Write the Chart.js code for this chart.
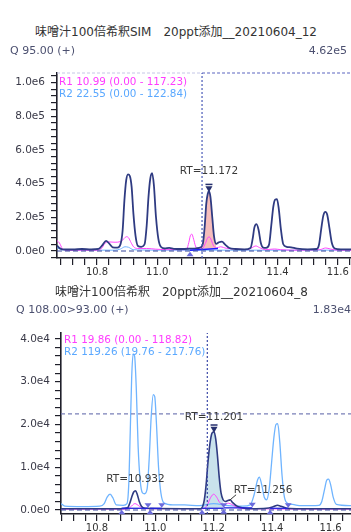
<!DOCTYPE html>
<html>
<head>
<meta charset="utf-8">
<title>SIM / MRM chromatograms</title>
<script src="https://cdn.jsdelivr.net/npm/chart.js@4/dist/chart.umd.min.js"></script>
<style>
  body { margin: 0; width: 351px; height: 532px; position: relative; overflow: hidden; background: #fff;
         font-family: "DejaVu Sans", "Noto Sans CJK JP", sans-serif; }
  canvas { position: absolute; left: 0; }
  .lbl { position: absolute; white-space: nowrap; line-height: 1; z-index: 2; }
  .title { font-size: 12px; color: #333; }
  .qline { font-size: 11px; color: #4c5070; }
  .r1 { font-size: 10.4px; color: #ff3cff; }
  .r2 { font-size: 10.4px; color: #5aa8ff; }
</style>
</head>
<body>
<canvas id="sim" width="351" height="225" style="top:60px"></canvas>
<canvas id="mrm" width="351" height="212" style="top:320px"></canvas>

<div class="lbl title" style="left:35px; top:26px">味噌汁100倍希釈SIM　20ppt添加__20210604_12</div>
<div class="lbl qline" style="left:10px; top:45px">Q 95.00 (+)</div>
<div class="lbl qline" style="right:4px; top:45px">4.62e5</div>
<div class="lbl r1" style="left:59px; top:76px">R1 10.99 (0.00 - 117.23)</div>
<div class="lbl r2" style="left:59px; top:88px">R2 22.55 (0.00 - 122.84)</div>

<div class="lbl title" style="left:55px; top:286px">味噌汁100倍希釈　20ppt添加__20210604_8</div>
<div class="lbl qline" style="left:16px; top:304px">Q 108.00&gt;93.00 (+)</div>
<div class="lbl qline" style="right:0px; top:304px">1.83e4</div>
<div class="lbl r1" style="left:64px; top:334px">R1 19.86 (0.00 - 118.82)</div>
<div class="lbl r2" style="left:64px; top:346px">R2 119.26 (19.76 - 217.76)</div>

<script>
// ---- SIM run (Q 95.00) ----
const simRT = [10.667, 11.644];
const simInt = [-41500, 1056000];

const simNavyRT = [10.667, 10.675, 10.685, 10.72, 10.75, 10.78, 10.805, 10.818, 10.83, 10.84, 10.852, 10.868,
  10.878, 10.885, 10.891, 10.897, 10.903, 10.909, 10.915, 10.921, 10.928, 10.936, 10.947,
  10.958, 10.965, 10.971, 10.977, 10.983, 10.989, 10.996, 11.004, 11.012, 11.025, 11.04, 11.055, 11.08, 11.11, 11.13,
  11.145, 11.152, 11.158, 11.163, 11.168, 11.172, 11.177, 11.183, 11.189, 11.196, 11.205, 11.215, 11.226, 11.24,
  11.26, 11.29, 11.31, 11.317, 11.323, 11.33, 11.337, 11.344, 11.352, 11.362, 11.372, 11.379, 11.386, 11.392,
  11.398, 11.404, 11.411, 11.419, 11.43, 11.445, 11.465, 11.5, 11.53, 11.538, 11.545, 11.552, 11.559, 11.565,
  11.572, 11.58, 11.59, 11.61, 11.644];
const simNavyInt = [32000, 18000, 10000, 9000, 12000, 9000, 12000, 35000, 60000, 45000, 22000, 20000,
  40000, 120000, 300000, 420000, 455000, 445000, 380000, 220000, 90000, 30000, 25000,
  40000, 150000, 320000, 430000, 462000, 390000, 200000, 70000, 25000, 15000, 18000, 13000, 12000, 14000, 16000,
  22000, 45000, 150000, 280000, 340000, 355000, 320000, 200000, 85000, 42000, 52000, 56000, 38000, 18000,
  12000, 10000, 18000, 70000, 140000, 160000, 125000, 50000, 20000, 18000, 40000, 150000, 265000, 305000,
  308000, 250000, 130000, 40000, 25000, 22000, 14000, 10000, 12000, 40000, 130000, 210000, 232000, 215000,
  140000, 50000, 15000, 10000, 10000];

const simPinkRT = [10.667, 10.675, 10.685, 10.7, 10.8, 10.815, 10.826, 10.838, 10.86, 10.878, 10.889, 10.898,
  10.905, 10.913, 10.922, 10.935, 10.965, 10.995, 11.03, 11.09, 11.098, 11.105, 11.11, 11.115, 11.121, 11.127,
  11.135, 11.15, 11.16, 11.167, 11.172, 11.178, 11.186, 11.196, 11.21, 11.23, 11.26, 11.3, 11.315, 11.328,
  11.34, 11.36, 11.39, 11.41, 11.45, 11.54, 11.56, 11.575, 11.6, 11.644];
const simPinkInt = [62000, 48000, 14000, 5000, 5000, 15000, 45000, 54000, 52000, 56000, 72000, 85000,
  78000, 50000, 24000, 15000, 15000, 11000, 8000, 8000, 12000, 50000, 90000, 100000, 70000, 30000,
  12000, 15000, 45000, 76000, 84000, 72000, 35000, 18000, 25000, 16000, 12000, 8000, 20000, 30000,
  20000, 8000, 12000, 8000, 5000, 8000, 18000, 12000, 5000, 5000];

const simBlueRT = [10.667, 10.68, 10.7, 10.86, 10.878, 10.893, 10.905, 10.92, 10.95, 11.0, 11.644];
const simBlueInt = [20000, 8000, 5000, 5000, 12000, 25000, 22000, 8000, 6000, 5000, 5000];

const simPeakRT = [11.172];
const simPeakInt = [355000];
const simCursorRT = 11.149;
const simBaseRT = [11.109, 11.202];
const simBaseInt = [5000, 15000];

// ---- MRM run (Q 108.00>93.00) ----
const mrmRT = [10.677, 11.670];
const mrmInt = [-936, 41400];

const mrmNavyRT = [10.677, 10.88, 10.905, 10.912, 10.919, 10.926, 10.932, 10.938, 10.945, 10.953, 10.965,
  11.155, 11.162, 11.168, 11.174, 11.18, 11.187, 11.194, 11.201, 11.207, 11.213, 11.219, 11.225, 11.232,
  11.24, 11.248, 11.256, 11.264, 11.28, 11.3, 11.33, 11.38, 11.405, 11.418, 11.43, 11.45, 11.5, 11.67];
const mrmNavyInt = [300, 300, 500, 1500, 3000, 4200, 4500, 3700, 2000, 800, 400,
  300, 800, 2500, 6000, 11000, 15500, 18000, 18300, 16500, 12500, 7500, 4000, 2400,
  2000, 2200, 2400, 1800, 900, 500, 300, 400, 800, 1100, 900, 400, 300, 300];

const mrmPinkRT = [10.677, 10.9, 10.915, 10.93, 10.945, 10.96, 11.165, 11.178, 11.19, 11.2, 11.21, 11.22,
  11.235, 11.25, 11.262, 11.28, 11.3, 11.67];
const mrmPinkInt = [200, 200, 700, 1500, 900, 300, 300, 1200, 3000, 3700, 3000, 1800,
  1200, 1600, 1300, 600, 300, 200];

const mrmBlueRT = [10.677, 10.69, 10.75, 10.81, 10.825, 10.835, 10.845, 10.855, 10.866, 10.89, 10.903,
  10.909, 10.914, 10.919, 10.924, 10.929, 10.935, 10.941, 10.948, 10.956, 10.963, 10.972, 10.979, 10.986,
  10.993, 10.998, 11.004, 11.011, 11.019, 11.03, 11.06, 11.1, 11.15, 11.2, 11.25, 11.3, 11.325, 11.338,
  11.35, 11.356, 11.364, 11.373, 11.381, 11.39, 11.398, 11.406, 11.413, 11.419, 11.426, 11.434, 11.442,
  11.455, 11.47, 11.5, 11.56, 11.57, 11.58, 11.587, 11.593, 11.6, 11.609, 11.62, 11.67];
const mrmBlueInt = [1500, 900, 800, 900, 1500, 3000, 3700, 2800, 1200, 1100, 1500,
  6000, 18000, 31000, 36500, 36000, 28000, 15000, 7000, 4000, 3800, 5000, 12000, 22000,
  27000, 26500, 20000, 10000, 4000, 1600, 1200, 1200, 1000, 1500, 1000, 900, 1200, 3500,
  7000, 7700, 6000, 3000, 2400, 5000, 11000, 17000, 20000, 20200, 16000, 8000, 3000,
  1500, 1300, 1000, 1100, 2000, 5000, 7000, 7200, 6000, 3000, 1300, 1000];

const mrmPeakRT = [10.932, 11.201, 11.256];
const mrmPeakInt = [4500, 18300, 2400];
const mrmCursorRT = 11.178;
const mrmCursorInt = 22500;
const mrmBaseStart = [10.885, 10.982, 11.160, 11.234, 11.393];
const mrmBaseEnd = [10.975, 11.022, 11.234, 11.332, 11.455];
const mrmBaseInt = [400, 400, 400, 500, 400];

const NAVY = '#2f3b82';
const PINK = '#ff45ff';
const SKY = '#6fb4ff';

function pts(xs, ys) {
  return xs.map((x, i) => ({x: x, y: ys[i]}));
}

function trace(xs, ys, color, width, order) {
  return {data: pts(xs, ys), borderColor: color, borderWidth: width, pointRadius: 0, fill: false,
          cubicInterpolationMode: 'monotone', order: order};
}

function guide(data, color, dash, width) {
  return {data: data, borderColor: color, borderDash: dash, borderWidth: width, pointRadius: 0,
          fill: false, tension: 0, clip: false, order: 3};
}

function peakFill(xs, ys, from, to, base, color) {
  return {data: pts(xs, ys).filter(p => p.x >= from && p.x <= to), borderWidth: 0, pointRadius: 0,
          backgroundColor: color, fill: {value: base}, cubicInterpolationMode: 'monotone', order: 20};
}

function stepTicks(min, max, step) {
  const out = [];
  for (let k = Math.ceil(min / step - 1e-9); k * step <= max + 1e-9; k++) {
    out.push({value: +(k * step).toFixed(6)});
  }
  return out;
}

function onStep(v, step) {
  return Math.abs(v / step - Math.round(v / step)) < 1e-6;
}

function expLabel(v) {
  if (Math.abs(v) < 1e-9) return '0.0e0';
  const e = Math.floor(Math.log10(Math.abs(v)) + 1e-9);
  return (v / Math.pow(10, e)).toFixed(1) + 'e' + e;
}

function axes(o) {
  const ink = '#1f1f2a';
  return {
    x: {
      type: 'linear', min: o.x[0], max: o.x[1],
      border: {display: true, color: ink, width: 1.6},
      grid: {drawOnChartArea: false, drawTicks: true, tickLength: 7, color: ink, lineWidth: 1.2},
      ticks: {autoSkip: false, maxRotation: 0, padding: 1, color: '#333',
              font: {family: 'DejaVu Sans', size: 10},
              callback: v => onStep(v, 0.2) ? v.toFixed(1) : ''},
      afterBuildTicks: s => { s.ticks = stepTicks(o.x[0], o.x[1], 0.04); },
      afterFit: s => { s.height = o.xHeight; s.paddingLeft = 0; s.paddingRight = 0; }
    },
    y: {
      type: 'linear', min: o.y[0], max: o.y[1],
      border: {display: true, color: ink, width: 1.6},
      grid: {drawOnChartArea: false, drawTicks: true, tickLength: 6, color: ink, lineWidth: 1.2},
      ticks: {autoSkip: false, padding: o.pad, color: '#3a3a48',
              font: {family: 'DejaVu Sans', size: 10.5},
              callback: v => onStep(v, o.major) ? expLabel(v) : ''},
      afterBuildTicks: s => { s.ticks = stepTicks(o.y[0], o.y[1], o.minor); },
      afterFit: s => { s.width = o.yWidth; s.paddingTop = 0; s.paddingBottom = 0; }
    }
  };
}

// RT annotations, apex flags and the leader line of an offset label
function peakNotes(rts, heights, shifts, flags) {
  return {
    id: 'peakNotes',
    afterDatasetsDraw(chart) {
      const {ctx, scales} = chart;
      ctx.save();
      rts.forEach((rt, i) => {
        const px = scales.x.getPixelForValue(rt);
        const py = scales.y.getPixelForValue(heights[i]);
        const [dx, dy] = shifts[i];
        if (flags[i]) {
          ctx.fillStyle = '#26306e';
          ctx.beginPath();
          ctx.moveTo(px, py + 1);
          ctx.lineTo(px - 3.5, py - 5);
          ctx.lineTo(px + 3.5, py - 5);
          ctx.closePath();
          ctx.fill();
          ctx.fillRect(px - 3.5, py - 7.5, 7, 1.5);
        }
        if (dx !== 0) {
          ctx.strokeStyle = '#333';
          ctx.lineWidth = 1;
          ctx.beginPath();
          ctx.moveTo(px + dx - 27, py + dy + 4);
          ctx.lineTo(px - 1, py + 1);
          ctx.stroke();
        }
        ctx.font = '10.5px "DejaVu Sans"';
        ctx.textAlign = 'center';
        ctx.textBaseline = 'middle';
        ctx.fillStyle = '#3a3a3a';
        ctx.fillText('RT=' + rt.toFixed(3), px + dx, py + dy);
      });
      ctx.restore();
    }
  };
}

// integration start (up) and end (down) markers
function baseMarks(starts, ends, levels) {
  return {
    id: 'baseMarks',
    afterDatasetsDraw(chart) {
      const {ctx, scales} = chart;
      ctx.save();
      ctx.fillStyle = '#6b6bdc';
      starts.forEach((s, i) => {
        const py = scales.y.getPixelForValue(levels[i]);
        const a = scales.x.getPixelForValue(s);
        ctx.beginPath();
        ctx.moveTo(a, py + 1.5); ctx.lineTo(a - 3.5, py + 6); ctx.lineTo(a + 3.5, py + 6);
        ctx.closePath(); ctx.fill();
        if (ends) {
          const b = scales.x.getPixelForValue(ends[i]);
          ctx.beginPath();
          ctx.moveTo(b, py - 0.5); ctx.lineTo(b - 3.5, py - 5); ctx.lineTo(b + 3.5, py - 5);
          ctx.closePath(); ctx.fill();
        }
      });
      ctx.restore();
    }
  };
}

function baseOptions(scales, top) {
  return {
    responsive: false, animation: false, devicePixelRatio: 1,
    layout: {padding: {top: top, left: 0, right: 0, bottom: 0}},
    plugins: {legend: {display: false}, tooltip: {enabled: false}},
    scales: scales
  };
}

new Chart(document.getElementById('sim'), {
  type: 'line',
  data: {
    datasets: [
      peakFill(simNavyRT, simNavyInt, 11.145, 11.196, 14000, 'rgba(243, 178, 176, 0.85)'),
      trace(simBlueRT, simBlueInt, SKY, 1, 12),
      trace(simPinkRT, simPinkInt, PINK, 1, 11),
      trace(simNavyRT, simNavyInt, NAVY, 1.8, 10),
      {data: pts(simBaseRT, simBaseInt), borderColor: '#1a1aff', borderWidth: 1.5, pointRadius: 0,
       tension: 0, order: 5},
      guide([{x: simRT[0], y: 0}, {x: simRT[1], y: 0}], '#34449a', [5, 3], 1),
      guide([{x: simCursorRT, y: simInt[0]}, {x: simCursorRT, y: simInt[1]}], '#4a5ab8', [2, 2], 1.2),
      guide([{x: simCursorRT, y: simInt[1]}, {x: simRT[1], y: simInt[1]}], '#5a64c0', [3, 2], 1.2),
      guide([{x: simRT[0], y: simInt[1]}, {x: simCursorRT, y: simInt[1]}], '#c4c6e6', [3, 2], 1)
    ]
  },
  options: baseOptions(axes({x: simRT, y: simInt, xHeight: 27, yWidth: 57, pad: 6, major: 200000, minor: 40000}), 13),
  plugins: [peakNotes(simPeakRT, simPeakInt, [[0, -20]], [true]),
            baseMarks([simBaseRT[0]], null, [simBaseInt[0]])]
});

const mrmSegments = mrmBaseStart.map((s, i) => ({
  data: [{x: s, y: mrmBaseInt[i]}, {x: mrmBaseEnd[i], y: mrmBaseInt[i]}],
  borderColor: '#2222dd', borderWidth: 1.3, pointRadius: 0, tension: 0, order: 5
}));

new Chart(document.getElementById('mrm'), {
  type: 'line',
  data: {
    datasets: [
      peakFill(mrmNavyRT, mrmNavyInt, 11.16, 11.232, 300, '#c9e2ec'),
      trace(mrmBlueRT, mrmBlueInt, SKY, 1.3, 12),
      trace(mrmPinkRT, mrmPinkInt, PINK, 1, 11),
      trace(mrmNavyRT, mrmNavyInt, NAVY, 1.6, 10),
      ...mrmSegments,
      guide([{x: mrmRT[0], y: 0}, {x: mrmRT[1], y: 0}], '#34449a', [5, 3], 1),
      guide([{x: mrmCursorRT, y: mrmInt[0]}, {x: mrmCursorRT, y: mrmInt[1]}], '#3c4aa8', [2, 2], 1.2),
      guide([{x: mrmRT[0], y: mrmCursorInt}, {x: mrmRT[1], y: mrmCursorInt}], '#7a80b8', [4, 3], 1.2)
    ]
  },
  options: baseOptions(axes({x: mrmRT, y: mrmInt, xHeight: 18, yWidth: 61, pad: 5, major: 10000, minor: 2000}), 13),
  plugins: [peakNotes(mrmPeakRT, mrmPeakInt, [[0, -11.5], [0, -14], [33, -9]], [false, true, false]),
            baseMarks(mrmBaseStart, mrmBaseEnd, mrmBaseInt)]
});
</script>
</body>
</html>
